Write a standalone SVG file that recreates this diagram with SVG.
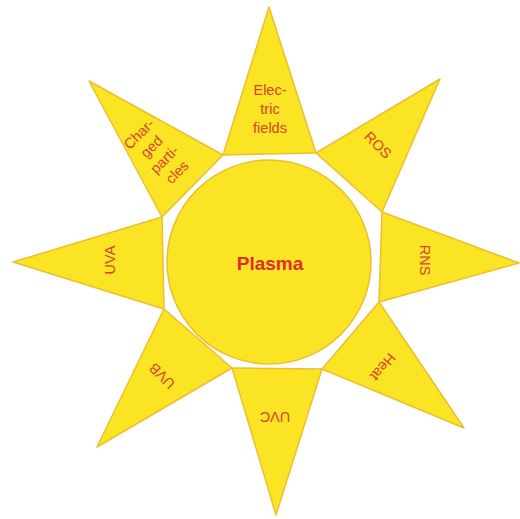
<svg xmlns="http://www.w3.org/2000/svg" width="520" height="519" viewBox="0 0 520 519">
<style>
.ray{fill:#FAE423;stroke:#EDBE2E;stroke-width:1.5;stroke-linejoin:round}
.core{fill:#FAE423;stroke:#EDBE2E;stroke-width:1.5}
.lbl{font-family:"Liberation Sans",Arial,sans-serif;font-size:14.5px;fill:#D4442A;text-anchor:middle}
.main{font-family:"Liberation Sans",Arial,sans-serif;font-size:19px;font-weight:bold;fill:#DE2E2A;text-anchor:middle}
</style>
<rect width="520" height="519" fill="#ffffff"/>
<g id="ray-electric">
<polygon class="ray" points="269,7 223,155 316,153"/>
<text class="lbl" x="270" y="95">Elec-</text>
<text class="lbl" x="270" y="114">tric</text>
<text class="lbl" x="270" y="133">fields</text>
</g>
<g id="ray-ros">
<polygon class="ray" points="440,79 316,153 382,212"/>
<text class="lbl" transform="translate(378,145) rotate(45)" y="5">ROS</text>
</g>
<g id="ray-rns">
<polygon class="ray" points="519,263 382,212 379,302"/>
<text class="lbl" transform="translate(425,260) rotate(90)" y="5">RNS</text>
</g>
<g id="ray-heat">
<polygon class="ray" points="464,428 379,302 322,369"/>
<text class="lbl" transform="translate(383,367) rotate(130)" y="5">Heat</text>
</g>
<g id="ray-uvc">
<polygon class="ray" points="276,515 322,369 232,368"/>
<text class="lbl" transform="translate(275,417) rotate(180)" y="5">UVC</text>
</g>
<g id="ray-uvb">
<polygon class="ray" points="97,447 232,368 164,309"/>
<text class="lbl" transform="translate(162,376) rotate(-135)" y="5">UVB</text>
</g>
<g id="ray-uva">
<polygon class="ray" points="13,262 164,309 162,217"/>
<text class="lbl" transform="translate(110,260) rotate(-90)" y="5">UVA</text>
</g>
<g id="ray-charged">
<polygon class="ray" points="89,81 162,217 223,155"/>
<g transform="translate(158,153) rotate(-45)">
<text class="lbl" x="0" y="-22">Char-</text>
<text class="lbl" x="0" y="-4">ged</text>
<text class="lbl" x="0" y="14">parti-</text>
<text class="lbl" x="0" y="32">cles</text>
</g>
</g>
<g id="plasma">
<circle class="core" cx="269" cy="262" r="102"/>
<text class="main" x="270" y="270">Plasma</text>
</g>
<g id="connectors"></g>
</svg>
